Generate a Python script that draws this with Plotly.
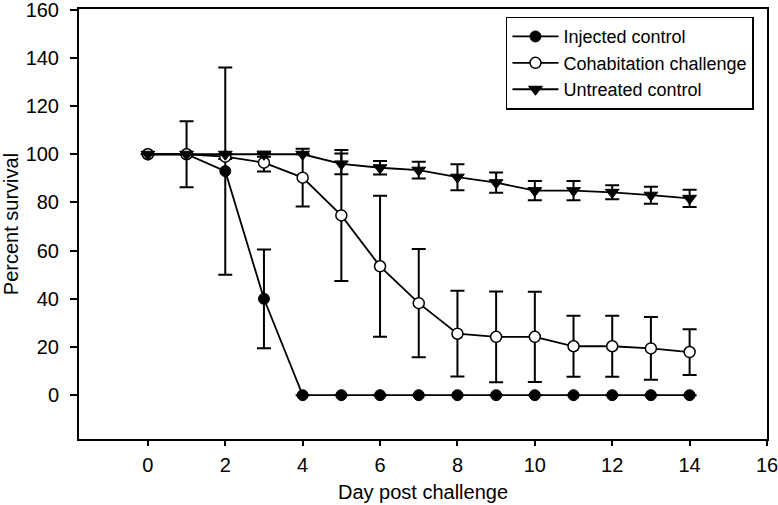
import plotly.graph_objects as go

days = list(range(15))
injected = [100, 100, 93, 40, 0, 0, 0, 0, 0, 0, 0, 0, 0, 0, 0]
injected_err = [0, 13.7, 43, 20.5, 0, 0, 0, 0, 0, 0, 0, 0, 0, 0, 0]
cohab = [100, 100, 99, 96.5, 90.3, 74.6, 53.5, 38.2, 25.5, 24.2, 24.2, 20.3, 20.3, 19.4, 17.9]
cohab_err = [0, 0, 1, 3.7, 12, 27.2, 29.3, 22.5, 17.8, 18.8, 18.7, 12.7, 12.7, 13, 9.5]
untreated = [100, 100, 100, 100, 100, 96, 94.4, 93.4, 90.5, 88.2, 84.9, 84.9, 84.2, 83, 81.7]
untreated_err = [0, 0, 0, 1, 0, 4.3, 2.8, 3.5, 5.4, 4.2, 4, 4, 2.9, 3.5, 3.6]

x_ticks = [0, 2, 4, 6, 8, 10, 12, 14, 16]
y_ticks = [0, 20, 40, 60, 80, 100, 120, 140, 160]

FONT = "Liberation Sans, Arial, sans-serif"

def err(vals):
    return dict(type="data", array=vals, visible=True, color="black", thickness=2, width=7)

fig = go.Figure()
fig.add_trace(go.Scatter(
    x=days, y=injected, name="Injected control", mode="lines+markers",
    line=dict(color="black", width=1.8),
    marker=dict(symbol="circle", size=11, color="black", line=dict(color="black", width=1)),
    error_y=err(injected_err)))
fig.add_trace(go.Scatter(
    x=days, y=cohab, name="Cohabitation challenge", mode="lines+markers",
    line=dict(color="black", width=1.8),
    marker=dict(symbol="circle", size=11, color="white", line=dict(color="black", width=1.5)),
    error_y=err(cohab_err)))
fig.add_trace(go.Scatter(
    x=days, y=untreated, name="Untreated control", mode="lines+markers",
    line=dict(color="black", width=1.8),
    marker=dict(symbol="triangle-down", size=12, color="black", line=dict(color="black", width=1)),
    error_y=err(untreated_err)))

fig.update_layout(
    width=778, height=505,
    margin=dict(l=79, r=11, t=9, b=66, autoexpand=False),
    paper_bgcolor="white", plot_bgcolor="white",
    font=dict(family=FONT, size=20, color="black"),
    showlegend=True,
    legend=dict(
        x=0.6206, y=0.982, xanchor="left", yanchor="top",
        bgcolor="white", bordercolor="black", borderwidth=1.5,
        font=dict(family=FONT, size=18, color="black"),
        tracegroupgap=0, itemwidth=46,
    ),
)
fig.update_xaxes(
    range=[-1.78, 16], tickvals=x_ticks, ticktext=[str(v) for v in x_ticks],
    showline=True, linecolor="black", linewidth=2, mirror=True,
    ticks="outside", ticklen=5, tickwidth=2, tickcolor="black",
    ticklabelstandoff=2, ticklabeloverflow="allow", showgrid=False, zeroline=False,
    automargin=False,
    tickfont=dict(family=FONT, size=20),
    title=dict(text="Day post challenge", font=dict(family=FONT, size=20), standoff=10),
)
fig.update_yaxes(
    range=[-18.2, 160.3], tickvals=y_ticks, ticktext=[str(v) for v in y_ticks],
    showline=True, linecolor="black", linewidth=2, mirror=True,
    ticks="outside", ticklen=7, tickwidth=2, tickcolor="black",
    ticklabelstandoff=7, ticklabeloverflow="allow", showgrid=False, zeroline=False,
    automargin=False,
    tickfont=dict(family=FONT, size=20),
    title=dict(text="Percent survival", font=dict(family=FONT, size=20), standoff=8),
)

fig.write_html("out.html", config={"displayModeBar": False},
               post_script="document.body.style.margin='0';")
